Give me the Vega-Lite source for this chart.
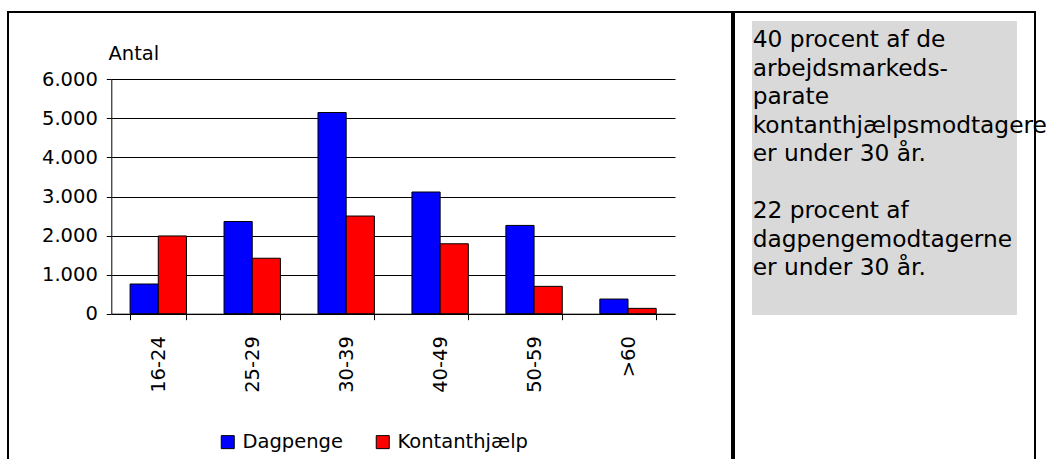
{
  "$schema": "https://vega.github.io/schema/vega-lite/v6.json",
  "background": "white",
  "padding": {"left": -3, "top": 11, "right": 0, "bottom": 0},
  "spacing": 0,
  "config": {
    "font": "DejaVu Sans",
    "view": {"stroke": "black", "strokeWidth": 2},
    "locale": {"number": {"decimal": ",", "thousands": ".", "grouping": [3], "currency": ["", " kr."]}}
  },
  "hconcat": [
    {
      "width": 724,
      "height": 460,
      "data": {"values": [
        {"age": "16-24", "serie": "Dagpenge", "antal": 760},
        {"age": "16-24", "serie": "Kontanthjælp", "antal": 1990},
        {"age": "25-29", "serie": "Dagpenge", "antal": 2360},
        {"age": "25-29", "serie": "Kontanthjælp", "antal": 1420},
        {"age": "30-39", "serie": "Dagpenge", "antal": 5150},
        {"age": "30-39", "serie": "Kontanthjælp", "antal": 2500},
        {"age": "40-49", "serie": "Dagpenge", "antal": 3115},
        {"age": "40-49", "serie": "Kontanthjælp", "antal": 1790},
        {"age": "50-59", "serie": "Dagpenge", "antal": 2260},
        {"age": "50-59", "serie": "Kontanthjælp", "antal": 700},
        {"age": ">60", "serie": "Dagpenge", "antal": 375},
        {"age": ">60", "serie": "Kontanthjælp", "antal": 137}
      ]},
      "mark": {"type": "bar", "stroke": "black", "strokeWidth": 1},
      "encoding": {
        "x": {
          "field": "age", "type": "nominal", "sort": null,
          "scale": {"range": [103.3, 667], "paddingInner": 0.4, "paddingOuter": 0.2},
          "axis": {
            "title": null, "orient": "bottom", "offset": -158.3,
            "domainColor": "black", "domainWidth": 1,
            "tickColor": "black", "tickSize": 6, "tickBand": "extent",
            "labelAngle": -90, "labelPadding": 16, "labelFontSize": 19.5, "labelColor": "black",
            "labelFont": "DejaVu Sans"
          }
        },
        "xOffset": {"field": "serie", "sort": ["Dagpenge", "Kontanthjælp"], "scale": {"paddingInner": 0, "paddingOuter": 0}},
        "y": {
          "field": "antal", "type": "quantitative",
          "scale": {"domain": [0, 6000], "range": [301.7, 67.3], "nice": false},
          "axis": {
            "orient": "left", "offset": -103.3,
            "values": [0, 1000, 2000, 3000, 4000, 5000, 6000], "format": ",d",
            "domainColor": "black", "domainWidth": 1,
            "tickColor": "black", "tickSize": 5,
            "grid": true, "gridColor": "black", "gridWidth": 1, "gridOpacity": 1,
            "labelPadding": 9, "labelFontSize": 19.5, "labelColor": "black", "labelFont": "DejaVu Sans",
            "title": "Antal", "titleAngle": 0, "titleAlign": "left", "titleBaseline": "middle",
            "titleX": -3.3, "titleY": 41, "titleFontSize": 19.5, "titleFontWeight": "normal",
            "titleColor": "black", "titleFont": "DejaVu Sans"
          }
        },
        "color": {
          "field": "serie", "type": "nominal",
          "scale": {"domain": ["Dagpenge", "Kontanthjælp"], "range": ["#0000ff", "#ff0000"]},
          "legend": {
            "title": null, "orient": "none", "legendX": 210, "legendY": 420,
            "direction": "horizontal", "padding": 0,
            "symbolType": "square", "symbolSize": 169, "symbolStrokeColor": "black", "symbolStrokeWidth": 1,
            "symbolOpacity": 1,
            "labelFontSize": 19.5, "labelColor": "black", "labelFont": "DejaVu Sans",
            "labelOffset": 5, "columnPadding": 30
          }
        }
      }
    },
    {
      "width": 301,
      "height": 460,
      "data": {"values": [
        {"para": 1, "note": "40 procent af de\narbejdsmarkeds-\nparate\nkontanthjælpsmodtagere\ner under 30 år."},
        {"para": 2, "note": "22 procent af\ndagpengemodtagerne\ner under 30 år."}
      ]},
      "layer": [
        {
          "transform": [{"filter": "datum.para === 1"}],
          "mark": {"type": "rect", "color": "#d9d9d9"},
          "encoding": {
            "x": {"datum": 18, "type": "quantitative", "scale": {"domain": [0, 301], "nice": false, "zero": false}, "axis": null},
            "x2": {"datum": 283},
            "y": {"datum": 9, "type": "quantitative", "scale": {"domain": [460, 0], "nice": false, "zero": false}, "axis": null},
            "y2": {"datum": 303}
          }
        },
        {
          "transform": [{"filter": "datum.para === 1"}],
          "mark": {"type": "text", "align": "left", "baseline": "middle", "fontSize": 23.3, "lineHeight": 28.5, "lineBreak": "\n", "color": "black", "font": "DejaVu Sans"},
          "encoding": {
            "x": {"datum": 18.7, "type": "quantitative"},
            "y": {"datum": 28, "type": "quantitative"},
            "text": {"field": "note"}
          }
        },
        {
          "transform": [{"filter": "datum.para === 2"}],
          "mark": {"type": "text", "align": "left", "baseline": "middle", "fontSize": 23.3, "lineHeight": 28.5, "lineBreak": "\n", "color": "black", "font": "DejaVu Sans"},
          "encoding": {
            "x": {"datum": 18.7, "type": "quantitative"},
            "y": {"datum": 199, "type": "quantitative"},
            "text": {"field": "note"}
          }
        }
      ]
    }
  ]
}
